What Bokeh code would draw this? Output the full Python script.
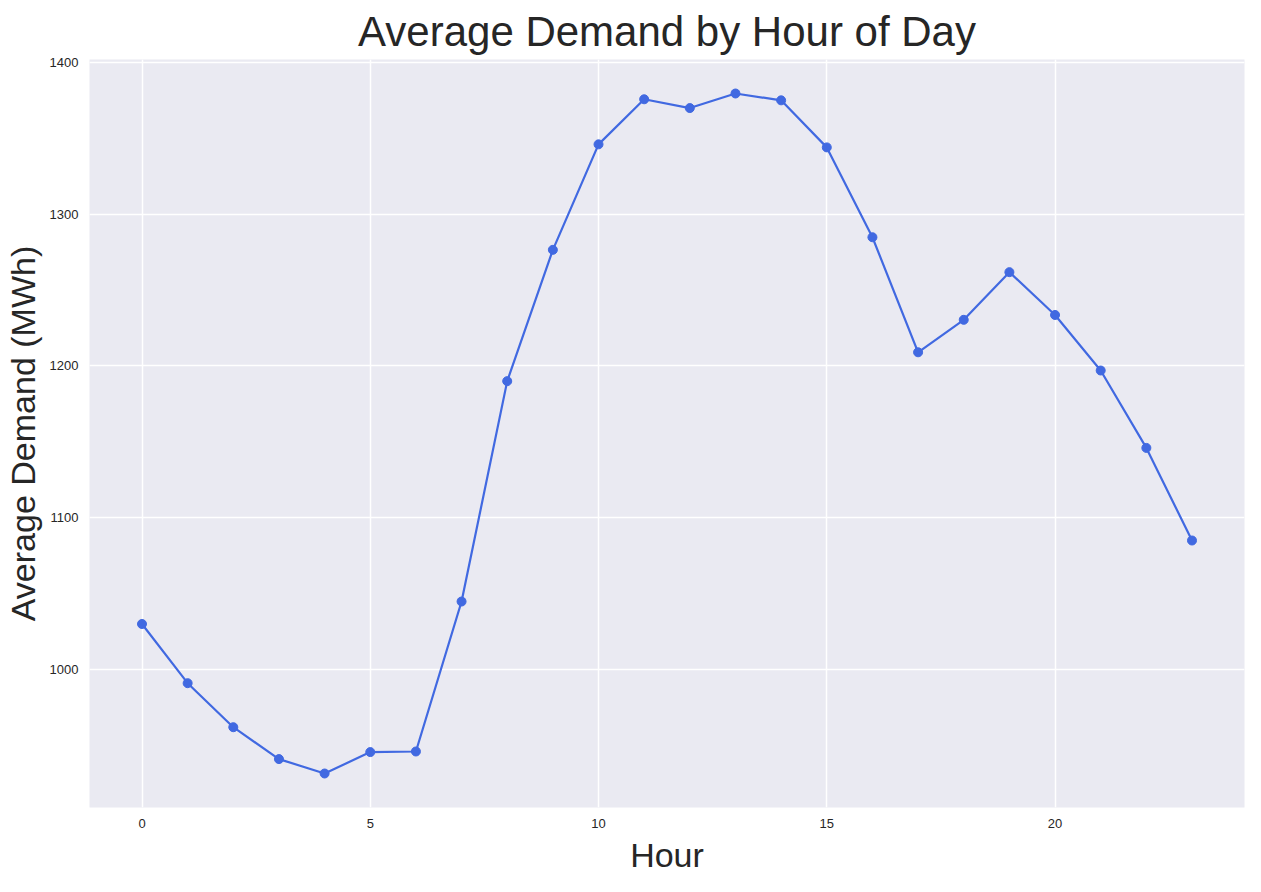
from bokeh.plotting import figure
from bokeh.embed import file_html
from bokeh.resources import INLINE
from bokeh.models import Range1d, FixedTicker

hours = list(range(24))
demand = [1030, 991, 962, 941, 931.5, 945.6, 946, 1044.8, 1190, 1276.5, 1346, 1375.7,
          1369.9, 1379.5, 1375, 1344, 1284.8, 1209, 1230.4, 1261.8, 1233.6, 1197, 1146, 1085]
x_ticks = [0, 5, 10, 15, 20]
y_ticks = [1000, 1100, 1200, 1300, 1400]

p = figure(width=1245, height=876, output_backend="svg", toolbar_location=None,
           x_range=Range1d(-1.15, 24.15), y_range=Range1d(909.1, 1401.9),
           title="Average Demand by Hour of Day",
           min_border_left=81, min_border_right=1, min_border_top=42, min_border_bottom=64)
p.background_fill_color = "#EAEAF2"
p.border_fill_color = "white"
p.outline_line_color = None
p.title.align = "center"
p.title.text_font = "Liberation Sans"
p.title.text_font_size = "42px"
p.title.text_font_style = "normal"
p.title.text_color = "#262626"
p.line(hours, demand, line_color="royalblue", line_width=2.2)
p.scatter(hours, demand, size=9, color="royalblue")
p.xaxis.ticker = FixedTicker(ticks=x_ticks)
p.yaxis.ticker = FixedTicker(ticks=y_ticks)
p.xaxis.axis_label = "Hour"
p.yaxis.axis_label = "Average Demand (MWh)"
for ax in (p.xaxis[0], p.yaxis[0]):
    ax.axis_line_color = None
    ax.major_tick_line_color = None
    ax.minor_tick_line_color = None
    ax.major_label_text_font = "Liberation Sans"
    ax.major_label_text_font_size = "13px"
    ax.major_label_text_color = "#262626"
    ax.axis_label_text_font = "Liberation Sans"
    ax.axis_label_text_font_size = "34px"
    ax.axis_label_text_font_style = "normal"
    ax.axis_label_text_color = "#262626"
p.xgrid.grid_line_color = "white"
p.ygrid.grid_line_color = "white"
p.xgrid.grid_line_width = 1.5
p.ygrid.grid_line_width = 1.5

open("out.html", "w").write(file_html(p, INLINE))
